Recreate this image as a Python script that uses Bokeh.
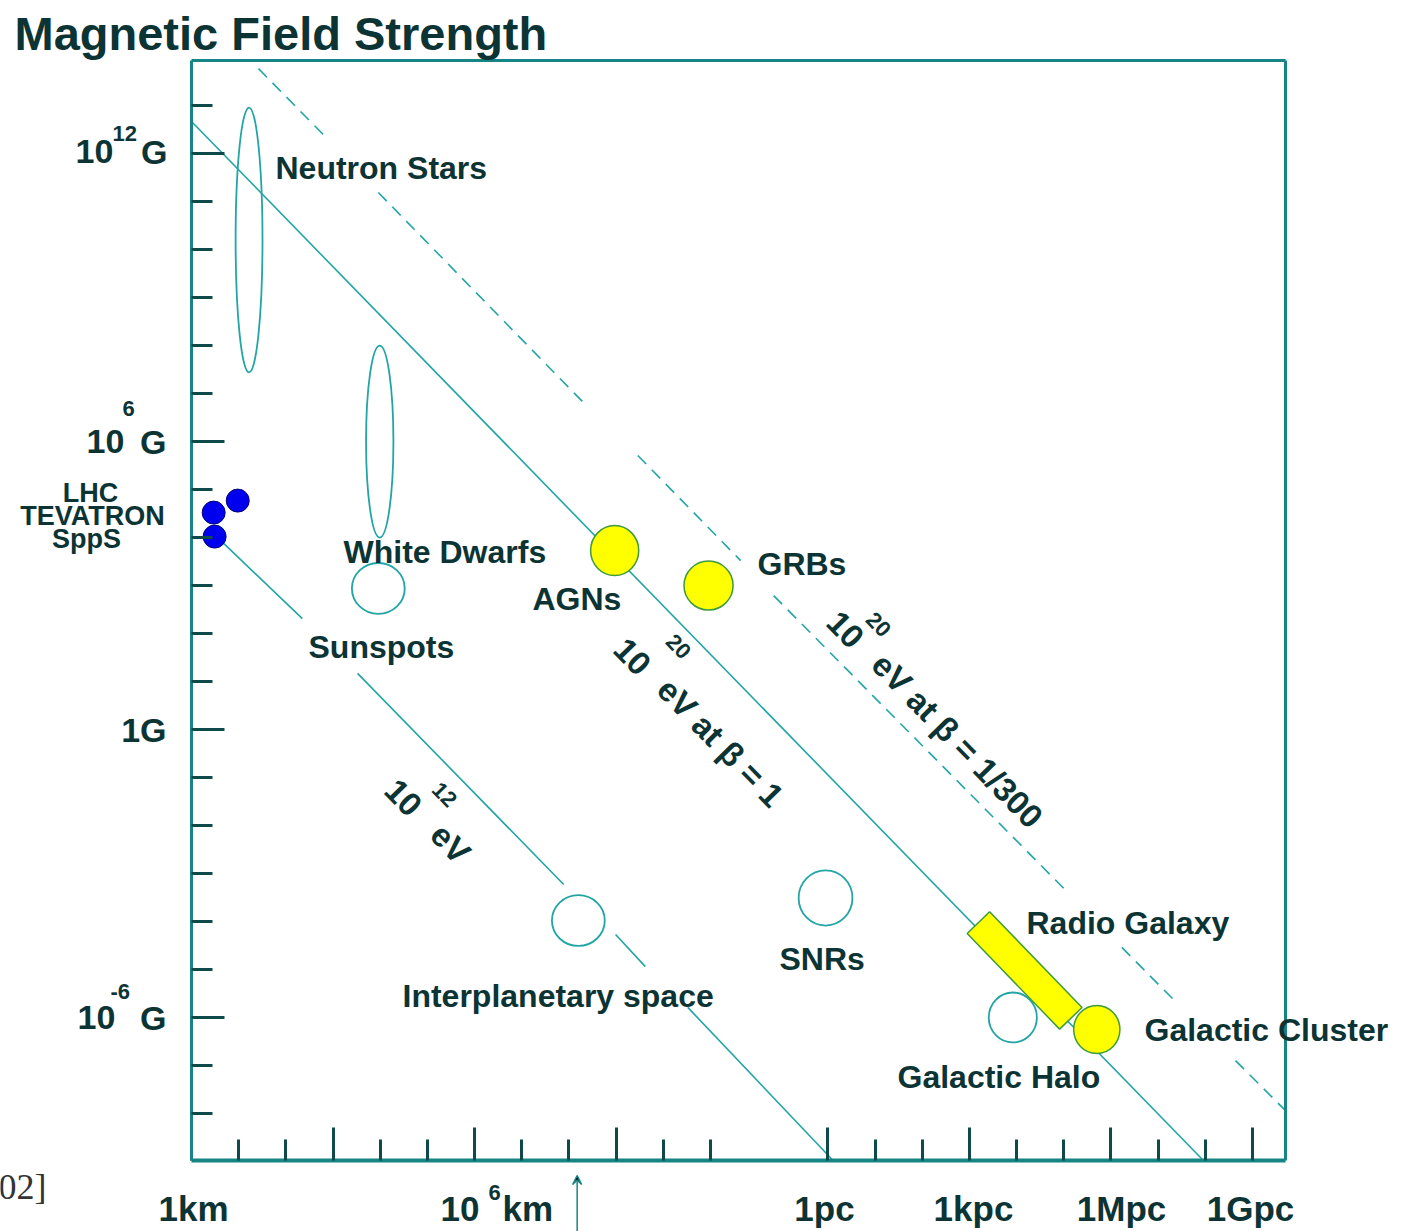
import numpy as np
from bokeh.plotting import figure
from bokeh.models import Label, FixedTicker, Range1d, Arrow, VeeHead, CustomJSTickFormatter, LinearAxis
from bokeh.embed import file_html
from bokeh.resources import INLINE

nan = float("nan")

# ---------------- data: x = log10(size / km), y = log10(B / gauss) ----------------
PC_KM = 3.086e13
AU_KM = 1.496e8
x_major = [0.0, 3.0, 6.0, 9.0,
           np.log10(PC_KM), np.log10(PC_KM * 1e3), np.log10(PC_KM * 1e6), np.log10(PC_KM * 1e9)]
x_minor = [1, 2, 4, 5, 7, 8, 10, 11] + [np.log10(PC_KM) + k for k in (1, 2, 4, 5, 7, 8)]
y_major = [12, 6, 0, -6]
y_minor = [v for v in range(-8, 14) if v not in y_major]

# open ellipses (neutron stars, white dwarfs)
ell_names = ["Neutron Stars", "White Dwarfs"]
ell_x = [1.22, 3.99]
ell_y = [10.2, 6.0]
ell_w = [0.57, 0.58]
ell_h = [5.52, 4.0]

# open circles
open_names = ["Sunspots", "Interplanetary space", "SNRs", "Galactic Halo"]
open_x = [3.96, 8.20, 13.44, 17.41]
open_y = [2.94, -3.98, -3.51, -6.0]
open_w = [1.12, 1.12, 1.14, 1.02]
open_h = [1.06, 1.06, 1.15, 1.04]

# yellow (UHECR candidate) sources
uhe_names = ["AGNs", "GRBs", "Galactic Cluster"]
uhe_x = [8.97, 10.96, 19.19]
uhe_y = [3.73, 3.00, -6.25]
uhe_w = [1.02, 1.04, 0.98]
uhe_h = [1.04, 1.02, 1.00]

# radio galaxy band
radio_x = [17.66]
radio_y = [-5.02]
radio_len = [2.82]
radio_thick = [0.65]
radio_angle_deg = [-46.0]

# accelerators
acc_names = ["LHC", "TEVATRON", "SppS"]
acc_x = [0.98, 0.47, 0.49]
acc_y = [4.77, 4.52, 4.02]

# Hillas lines (gaps where the original leaves them blank)
beta1_x = [0.0, 21.45]
beta1_y = [12.67, -8.98]
beta300_x = [1.42, 2.88, nan, 3.96, 8.31, nan, 9.46, 11.64, nan, 12.34, 18.53, nan, 19.72, 20.90, nan, 22.13, 23.19]
beta300_y = [13.77, 12.31, nan, 11.19, 6.81, nan, 5.71, 3.52, nan, 2.79, -3.35, nan, -4.54, -5.71, nan, -6.90, -7.94]
e12_x = [0.51, 2.35, nan, 3.52, 7.89, nan, 8.99, 9.62, nan, 10.52, 13.60]
e12_y = [4.04, 2.31, nan, 1.17, -3.23, nan, -4.27, -4.94, nan, -5.79, -8.98]

# ---------------- layout ----------------
W, H = 1401, 1231
FL, FR, FT, FB = 191, 1285, 60, 1160      # pixel box of the chart area
X0, X1 = 0.0, 23.19
Y0, Y1 = -8.98, 13.94
SX = (FR - FL) / (X1 - X0)
SY = (FB - FT) / (Y1 - Y0)


def dx(px):
    return X0 + (px - FL) / SX


def dy(py):
    return Y1 - (py - FT) / SY


TEAL = "#178585"
LINE = "#22a5a5"
TICK = "#0f4a4a"
TEXT = "#0d3434"
FONT = "Liberation Sans"

# the frame fills the whole canvas so that text outside the box is not clipped
p = figure(width=W, height=H, x_range=Range1d(dx(0), dx(W)), y_range=Range1d(dy(H), dy(0)),
           output_backend="svg", toolbar_location=None,
           min_border_left=0, min_border_right=0, min_border_top=0, min_border_bottom=0)
p.grid.visible = False
p.background_fill_color = "white"
p.border_fill_color = "white"
p.outline_line_color = None

bottom_axis = p.below[0]
left_axis = p.left[0]
top_axis = LinearAxis()
right_axis = LinearAxis()
p.add_layout(top_axis, "above")
p.add_layout(right_axis, "right")

specs = [
    (bottom_axis, x_major, x_minor, 4, Y0, (X0, X1)),
    (left_axis, y_major, y_minor, 3, X0, (Y0, Y1)),
    (top_axis, [], [], 3, Y1, (X0, X1)),
    (right_axis, [], [], 3, X1, (Y0, Y1)),
]
for ax, maj, mnr, lw, loc, bnd in specs:
    ax.fixed_location = loc
    ax.bounds = bnd
    ax.ticker = FixedTicker(ticks=maj, minor_ticks=mnr)
    ax.formatter = CustomJSTickFormatter(code="return ''")
    ax.axis_line_color = TEAL
    ax.axis_line_width = lw
    ax.major_tick_in = 33
    ax.major_tick_out = 0
    ax.minor_tick_in = 21
    ax.minor_tick_out = 0
    ax.major_tick_line_color = TICK
    ax.minor_tick_line_color = TICK
    ax.major_tick_line_width = 3
    ax.minor_tick_line_width = 3
    ax.major_label_text_font_size = "1px"

# lines
p.line(beta1_x, beta1_y, line_color=LINE, line_width=1.6)
p.line(beta300_x, beta300_y, line_color=LINE, line_width=1.6, line_dash="12 8")
p.line(e12_x, e12_y, line_color=LINE, line_width=1.6)

# regions
p.ellipse(ell_x, ell_y, width=ell_w, height=ell_h, fill_color=None, line_color=LINE, line_width=1.8)
p.ellipse(open_x, open_y, width=open_w, height=open_h, fill_color="white", line_color=LINE, line_width=1.8)
p.rect(radio_x, radio_y, width=radio_len, height=radio_thick, angle=radio_angle_deg, angle_units="deg",
       fill_color="#ffff00", line_color="#3d9a3d", line_width=1.5)
p.ellipse(uhe_x, uhe_y, width=uhe_w, height=uhe_h, fill_color="#ffff00", line_color="#3d9a3d", line_width=1.5)
p.scatter(acc_x, acc_y, size=23, fill_color="#0000ee", line_color="#00007a", line_width=1)


def lab(text, px, py, size, align="left", angle=0.0, color=TEXT, font=FONT, style="bold"):
    p.add_layout(Label(x=dx(px), y=dy(py), text=text, text_font=font, text_font_style=style,
                       text_font_size=f"{size}px", text_color=color, text_align=align,
                       text_baseline="middle", angle=angle, angle_units="rad"))


# title
lab("Magnetic Field Strength", 14, 33, 47)

# y-axis labels
lab("10", 75, 151, 34)
lab("12", 112, 133, 22)
lab("G", 167, 151, 34, align="right")
lab("6", 128, 408, 22, align="center")
lab("10", 86, 441, 34)
lab("G", 166, 441, 34, align="right")
lab("1G", 166, 729, 34, align="right")
lab("10", 77, 1017, 34)
lab("-6", 110, 991, 22)
lab("G", 166, 1017, 34, align="right")

# x-axis labels
lab("1km", 193, 1208, 35, align="center")
lab("10", 440, 1208, 35)
lab("6", 494, 1192, 22, align="center")
lab("km", 502, 1208, 35)
lab("1pc", 824, 1208, 35, align="center")
lab("1kpc", 973, 1208, 35, align="center")
lab("1Mpc", 1121, 1208, 35, align="center")
lab("1Gpc", 1250, 1208, 35, align="center")
lab("02]", -2, 1186, 36, color="#333333", font="Liberation Serif", style="normal")

# 1 AU marker
p.add_layout(Arrow(end=VeeHead(size=9, line_color=TEAL, line_width=1.5),
                   x_start=np.log10(AU_KM), y_start=dy(1240), x_end=np.log10(AU_KM), y_end=dy(1175),
                   line_color=TEAL, line_width=1.5))

# accelerator labels
lab("LHC", 90, 492, 27, align="center")
lab("TEVATRON", 92, 515, 27, align="center")
lab("SppS", 86, 538, 27, align="center")

# source labels
lab("Neutron Stars", 275, 167, 32)
lab("White Dwarfs", 343, 551, 32)
lab("Sunspots", 308, 646, 32)
lab("AGNs", 532, 598, 32)
lab("GRBs", 757, 563, 32)
lab("SNRs", 779, 958, 32)
lab("Interplanetary space", 402, 995, 32)
lab("Radio Galaxy", 1026, 922, 32)
lab("Galactic Halo", 897, 1076, 32)
lab("Galactic Cluster", 1144, 1029, 32)

# rotated line labels
ang = float(np.arctan2((beta1_y[1] - beta1_y[0]) * SY, (beta1_x[1] - beta1_x[0]) * SX))
lab("10", 632, 656, 33, align="center", angle=ang)
lab("20", 678, 646, 22, align="center", angle=ang)
lab("eV at β = 1", 720, 742, 33, align="center", angle=ang)
lab("10", 845, 629, 33, align="center", angle=ang)
lab("20", 878, 624, 22, align="center", angle=ang)
lab("eV at β = 1/300", 957, 740, 33, align="center", angle=ang)
lab("10", 403, 797, 33, align="center", angle=ang)
lab("12", 444, 794, 22, align="center", angle=ang)
lab("eV", 450, 843, 33, align="center", angle=ang)

open("out.html", "w").write(file_html(p, INLINE))
